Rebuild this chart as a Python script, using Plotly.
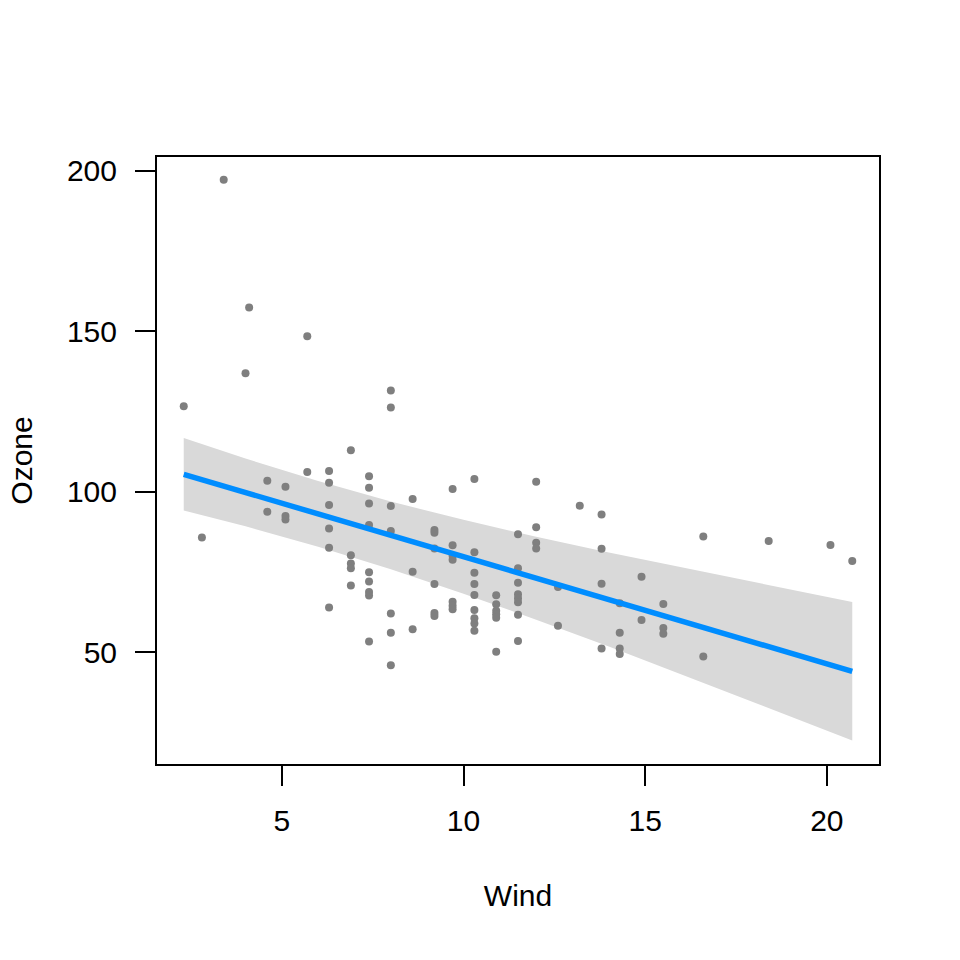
import plotly.graph_objects as go

# ---- data ----
wind = [2.3, 2.8, 3.4, 4.0, 4.1,
        4.6, 4.6,
        5.1, 5.1, 5.1,
        5.7, 5.7,
        6.3, 6.3, 6.3, 6.3, 6.3, 6.3,
        6.9, 6.9, 6.9, 6.9, 6.9,
        7.4, 7.4, 7.4, 7.4, 7.4, 7.4, 7.4, 7.4, 7.4,
        8.0, 8.0, 8.0, 8.0, 8.0, 8.0, 8.0,
        8.6, 8.6, 8.6,
        9.2, 9.2, 9.2, 9.2, 9.2, 9.2,
        9.7, 9.7, 9.7, 9.7, 9.7, 9.7, 9.7,
        10.3, 10.3, 10.3, 10.3, 10.3, 10.3, 10.3, 10.3, 10.3,
        10.9, 10.9, 10.9, 10.9, 10.9, 10.9,
        11.5, 11.5, 11.5, 11.5, 11.5, 11.5, 11.5, 11.5,
        12.0, 12.0, 12.0, 12.0,
        12.6, 12.6,
        13.2,
        13.8, 13.8, 13.8, 13.8,
        14.3, 14.3, 14.3, 14.3,
        14.9, 14.9,
        15.5, 15.5, 15.5,
        16.6, 16.6,
        18.4, 20.1, 20.7]

ozone = [126.6, 85.7, 197.2, 136.9, 157.4,
         103.4, 93.7,
         101.5, 92.4, 91.3,
         148.4, 106.1,
         106.4, 102.8, 95.8, 88.5, 82.5, 63.9,
         112.9, 80.2, 77.6, 76.1, 70.7,
         104.8, 101.2, 96.3, 89.6, 74.9, 72.0, 68.7, 67.6, 53.3,
         131.5, 126.2, 95.5, 87.7, 62.0, 56.0, 45.9,
         97.7, 75.0, 57.1,
         88.0, 87.2, 82.3, 71.2, 62.2, 61.2,
         100.8, 83.3, 80.0, 78.8, 65.7, 64.4, 63.3,
         103.9, 81.1, 74.7, 71.2, 67.8, 63.1, 60.5, 58.9, 56.6,
         67.7, 64.9, 62.9, 61.8, 60.7, 50.1,
         86.7, 76.1, 71.6, 68.0, 66.8, 65.5, 61.6, 53.4,
         103.1, 88.9, 84.1, 82.3,
         70.3, 58.2,
         95.6,
         92.9, 82.2, 71.3, 51.1,
         65.2, 56.0, 51.1, 49.4,
         73.5, 60.0,
         65.0, 57.5, 55.7,
         86.0, 48.6,
         84.6, 83.4, 78.4]

fit_wind = [2.3, 20.7]
fit_ozone = [105.4, 44.0]

band_wind = [2.3, 4.0, 6.0, 8.0, 10.0, 12.0, 14.0, 16.0, 18.0, 20.7]
band_upper = [116.7, 110.3, 103.3, 96.9, 91.2, 85.9, 81.0, 76.3, 71.8, 65.6]
band_lower = [94.1, 89.2, 82.8, 75.8, 68.2, 60.1, 51.7, 43.1, 34.3, 22.4]

x_ticks = [5, 10, 15, 20]
y_ticks = [50, 100, 150, 200]

FONT = "Liberation Sans, Arial, Helvetica, sans-serif"

fig = go.Figure()

# confidence band
fig.add_trace(go.Scatter(
    x=band_wind + band_wind[::-1],
    y=band_upper + band_lower[::-1],
    fill="toself", fillcolor="#D9D9D9",
    line=dict(width=0), mode="lines",
    hoverinfo="skip", showlegend=False))

# partial residuals
fig.add_trace(go.Scatter(
    x=wind, y=ozone, mode="markers",
    marker=dict(color="#7F7F7F", size=8, line=dict(width=0)),
    showlegend=False))

# fitted line
fig.add_trace(go.Scatter(
    x=fit_wind, y=fit_ozone, mode="lines",
    line=dict(color="#008DFF", width=5.5),
    showlegend=False))

axis_common = dict(
    showgrid=False, zeroline=False,
    showline=True, linecolor="black", linewidth=2, mirror=True,
    ticks="outside", ticklen=20, tickwidth=2, tickcolor="black",
    tickfont=dict(family=FONT, size=30, color="black"),
)

fig.update_xaxes(
    range=[1.564, 21.436], tickvals=x_ticks, ticktext=[str(v) for v in x_ticks],
    ticklabelstandoff=9,
    title=dict(text="Wind", font=dict(family=FONT, size=30, color="black"), standoff=49),
    **axis_common)
fig.update_yaxes(
    range=[15.1, 204.3], tickvals=y_ticks, ticktext=[str(v) for v in y_ticks],
    ticklabelstandoff=12,
    title=dict(text="Ozone", font=dict(family=FONT, size=30, color="black"), standoff=25),
    **axis_common)

fig.update_layout(
    width=960, height=960,
    margin=dict(l=157, r=81, t=157, b=196),
    paper_bgcolor="white", plot_bgcolor="white",
    font=dict(family=FONT, size=30, color="black"),
    showlegend=False,
)

fig.write_html("out.html", include_plotlyjs=True, full_html=True,
               config={"displayModeBar": False})
